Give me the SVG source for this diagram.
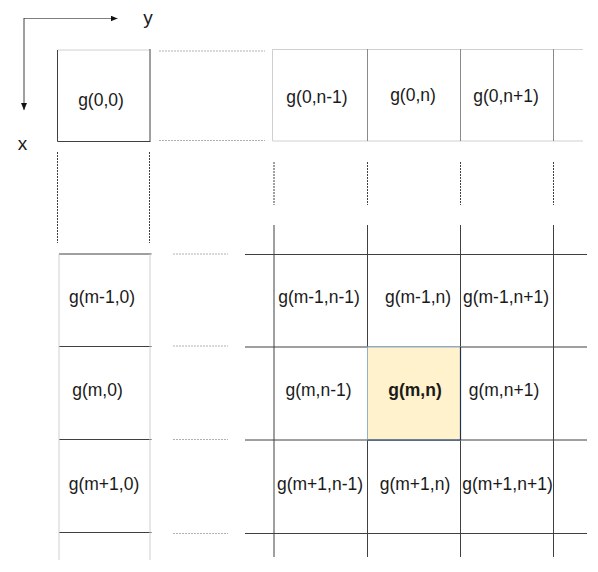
<svg xmlns="http://www.w3.org/2000/svg" width="598" height="572" viewBox="0 0 598 572">
<style>
  text { font-family: "Liberation Sans", Arial, sans-serif; font-size: 17.5px; fill: #1a1a1a; text-anchor: middle; }
  .ax { font-size: 19px; }
  .b { font-weight: bold; }
  .dk { stroke: #404040; stroke-width: 1; fill: none; }
  .md { stroke: #8a8a8a; stroke-width: 1; fill: none; }
  .lt { stroke: #d0d0d0; stroke-width: 1; fill: none; }
  .dsl { stroke: #b0b0b0; stroke-width: 1; stroke-dasharray: 2 1; fill: none; }
  .dsd { stroke: #404040; stroke-width: 1; stroke-dasharray: 2 1; fill: none; }
</style>
<defs>
  <marker id="arr" markerWidth="7" markerHeight="6" refX="7" refY="3" orient="auto" markerUnits="userSpaceOnUse">
    <path d="M0,0 L7,3 L0,6 z" fill="#111"/>
  </marker>
</defs>
<rect width="598" height="572" fill="#fff"/>

<g id="grid">
  <!-- g(0,0) box -->
  <line class="lt" x1="57.5" y1="50" x2="150" y2="50"/>
  <line class="dk" x1="57.5" y1="50" x2="57.5" y2="141.5"/>
  <line class="dk" x1="150" y1="49" x2="150" y2="141.5"/>
  <line class="dk" x1="57.5" y1="141.5" x2="150.5" y2="141.5"/>
  <!-- dashed connectors between left and right top blocks -->
  <line class="dsl" x1="159" y1="51" x2="265" y2="51"/>
  <line class="dsl" x1="159" y1="140.5" x2="265" y2="140.5"/>
  <!-- dashed verticals under g(0,0) -->
  <line class="dsd" x1="57.5" y1="152" x2="57.5" y2="243"/>
  <line class="dsd" x1="149.5" y1="152" x2="149.5" y2="243"/>
  <!-- top right block row 0 -->
  <line class="lt" x1="272.5" y1="49.5" x2="583" y2="49.5"/>
  <line class="lt" x1="272.5" y1="141" x2="583" y2="141"/>
  <line class="lt" x1="272.5" y1="49" x2="272.5" y2="141"/>
  <line class="md" x1="367.5" y1="49" x2="367.5" y2="141"/>
  <line class="md" x1="460.5" y1="49" x2="460.5" y2="141"/>
  <line class="md" x1="553.5" y1="49" x2="553.5" y2="141"/>
  <!-- dashed verticals under top right block -->
  <line class="dsd" x1="274" y1="162" x2="274" y2="205"/>
  <line class="dsd" x1="367.5" y1="162" x2="367.5" y2="205"/>
  <line class="dsd" x1="460.5" y1="162" x2="460.5" y2="205"/>
  <line class="dsd" x1="553.5" y1="162" x2="553.5" y2="205"/>
  <!-- lower left column -->
  <line class="dk" x1="59" y1="254" x2="151.5" y2="254"/>
  <line class="dk" x1="59" y1="346.5" x2="151.5" y2="346.5"/>
  <line class="dk" x1="59" y1="439.5" x2="151.5" y2="439.5"/>
  <line class="dk" x1="59" y1="532.5" x2="151.5" y2="532.5"/>
  <line class="lt" x1="59" y1="254" x2="59" y2="560"/>
  <line class="lt" x1="150" y1="254" x2="150" y2="560"/>
  <!-- dashed short horizontals in the middle -->
  <line class="dsl" x1="173" y1="254" x2="228" y2="254"/>
  <line class="dsl" x1="173" y1="346" x2="228" y2="346"/>
  <line class="dsl" x1="173" y1="439.5" x2="228" y2="439.5"/>
  <line class="dsl" x1="173" y1="533.5" x2="228" y2="533.5"/>
  <!-- lower right grid -->
  <line class="dk" x1="245" y1="254.5" x2="587" y2="254.5"/>
  <line class="dk" x1="245" y1="347" x2="587" y2="347"/>
  <line class="dk" x1="245" y1="440" x2="587" y2="440"/>
  <line class="dk" x1="245" y1="533.5" x2="587" y2="533.5"/>
  <line class="dk" x1="274" y1="225" x2="274" y2="557"/>
  <line class="dk" x1="367.5" y1="225" x2="367.5" y2="557"/>
  <line class="dk" x1="460.5" y1="225" x2="460.5" y2="557"/>
  <line class="dk" x1="553.5" y1="225" x2="553.5" y2="557"/>
</g>

<g id="connectors">
  <line x1="24" y1="18.5" x2="117.5" y2="18.5" stroke="#808080" stroke-width="1" marker-end="url(#arr)"/>
  <line x1="24" y1="18" x2="24" y2="110" stroke="#404040" stroke-width="1" marker-end="url(#arr)"/>
</g>

<g id="axis-labels">
  <text class="ax" x="148" y="24">y</text>
  <text class="ax" x="22.5" y="150">x</text>
</g>

<g id="n-0-0"><text x="101" y="106">g(0,0)</text></g>
<g id="n-0-n-1"><text x="317" y="103">g(0,n-1)</text></g>
<g id="n-0-n"><text x="413" y="101">g(0,n)</text></g>
<g id="n-0-n+1"><text x="506" y="102">g(0,n+1)</text></g>

<g id="n-m-1-0"><text x="102" y="303">g(m-1,0)</text></g>
<g id="n-m-1-n-1"><text x="319" y="303">g(m-1,n-1)</text></g>
<g id="n-m-1-n"><text x="418" y="303">g(m-1,n)</text></g>
<g id="n-m-1-n+1"><text x="506" y="303">g(m-1,n+1)</text></g>

<g id="n-m-0"><text x="97.5" y="396">g(m,0)</text></g>
<g id="n-m-n-1"><text x="318.5" y="396">g(m,n-1)</text></g>
<g id="n-m-n">
  <rect x="367.5" y="347" width="93" height="93" fill="#FFF2CC" stroke="#8fb0cf" stroke-width="1"/>
  <line x1="367.5" y1="440" x2="460.5" y2="440" stroke="#1f3350" stroke-width="1.2"/>
  <line x1="460.5" y1="347" x2="460.5" y2="440" stroke="#1f3350" stroke-width="1.2"/>
  <text class="b" x="415" y="396">g(m,n)</text>
</g>
<g id="n-m-n+1"><text x="504" y="396">g(m,n+1)</text></g>

<g id="n-m+1-0"><text x="104" y="490">g(m+1,0)</text></g>
<g id="n-m+1-n-1"><text x="320" y="490">g(m+1,n-1)</text></g>
<g id="n-m+1-n"><text x="415" y="490">g(m+1,n)</text></g>
<g id="n-m+1-n+1"><text x="507.5" y="490">g(m+1,n+1)</text></g>
</svg>
